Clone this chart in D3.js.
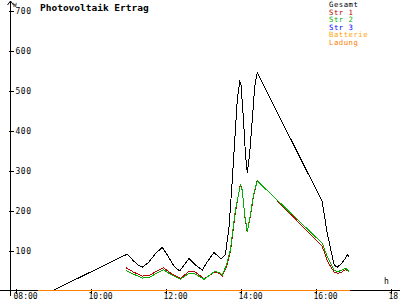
<!DOCTYPE html>
<html lang="de">
<head>
<meta charset="UTF-8">
<title>Photovoltaik Ertrag</title>
<script src="https://d3js.org/d3.v7.min.js"></script>
<style>
  body { margin: 0; background: #fff; }
  svg { display: block; }
  text { font-family: "DejaVu Sans Mono", monospace; }
</style>
</head>
<body>
<svg id="chart" width="400" height="300"></svg>
<script>
// times in minutes after midnight, values in W
const gesamtTime = [539, 658, 668, 676, 682, 692, 703, 714, 724, 733, 742, 749, 757, 767, 778, 787, 797, 803, 808, 815, 821, 826, 831, 834, 838, 840, 844, 847, 850, 854, 858, 862, 866, 970, 978, 989, 994, 1001, 1007, 1010, 1013];
const gesamt     = [0, 91, 74, 63, 58, 70, 92, 108, 84, 60, 49, 64, 80, 64, 51, 74, 95, 86, 79, 89, 160, 276, 401, 476, 522, 514, 426, 344, 294, 344, 426, 510, 545, 222, 143, 64, 58, 68, 80, 89, 84];

const strTime = [656, 668, 682, 695, 706, 716, 727, 743, 757, 767, 781, 797, 804, 810, 817, 823, 831, 839, 842, 846, 850, 855, 860, 866, 970, 979, 989, 995, 1001, 1007, 1013];
const str1    = [57, 46, 36, 39, 49, 57, 44, 30, 48, 46, 29, 45, 44, 36, 61, 96, 196, 266, 251, 186, 146, 186, 236, 276, 110, 71, 46, 43, 46, 52, 47];
const str2    = [50, 41, 31, 34, 44, 52, 41, 28, 43, 41, 28, 47, 46, 39, 64, 101, 201, 264, 251, 189, 147, 189, 239, 274, 118, 81, 51, 47, 51, 56, 47];
const str3    = [];

const akkuTime = [515, 1014];
const batterie = [0, 0];
const ladung   = [0, 0];

const yTicks = [100, 200, 300, 400, 500, 600, 700];
const xTicks = [480, 600, 720, 840, 960, 1080];

const legendNames  = ["Gesamt", "Str 1", "Str 2", "Str 3", "Batterie", "Ladung"];
const legendColors = ["#000000", "#c00000", "#00b000", "#0000ff", "#ffa500", "#ff8000"];

const svg = d3.select("#chart");

const x = d3.scaleLinear().domain([471.2, 1095.2]).range([10.5, 400.5]);
const y = d3.scaleLinear().domain([0, 700]).range([290.5, 10.5]);

const fmt = m => d3.format("02d")(Math.floor(m / 60)) + ":" + d3.format("02d")(m % 60);

// y axis
const yAxis = svg.append("g")
    .attr("transform", "translate(10.5,0)")
    .call(d3.axisRight(y).tickValues(yTicks).tickSize(3).tickFormat(d3.format("d")));
yAxis.select(".domain").remove();
yAxis.selectAll(".tick line").attr("x1", -2).attr("x2", 3).attr("stroke", "#000").attr("shape-rendering", "crispEdges");
yAxis.selectAll(".tick text")
    .attr("x", 5).attr("dy", "0.35em")
    .attr("font-size", 8).attr("letter-spacing", 0.5)
    .attr("font-family", "DejaVu Sans Mono").attr("fill", "#000");
svg.append("line").attr("x1", 10.5).attr("x2", 10.5).attr("y1", 1).attr("y2", 296)
    .attr("stroke", "#000").attr("shape-rendering", "crispEdges");
svg.append("path").attr("d", "M7.5,5 L10.5,1 L13.5,5").attr("fill", "none").attr("stroke", "#000");
svg.append("text").attr("x", 13).attr("y", 7).attr("font-size", 6).text("W");

// x axis
const xAxis = svg.append("g")
    .attr("transform", "translate(0,290.5)")
    .call(d3.axisBottom(x).tickValues(xTicks).tickSize(3).tickFormat(fmt));
xAxis.select(".domain").remove();
xAxis.selectAll(".tick line").attr("y1", -2).attr("y2", 3).attr("stroke", "#000").attr("shape-rendering", "crispEdges");
xAxis.selectAll(".tick text")
    .attr("x", -3).attr("y", 3).attr("dy", "0.71em").attr("text-anchor", "start")
    .attr("font-size", 8).attr("letter-spacing", 0)
    .attr("font-family", "DejaVu Sans Mono").attr("fill", "#000");
svg.append("line").attr("x1", 0).attr("x2", 400).attr("y1", 290.5).attr("y2", 290.5)
    .attr("stroke", "#000").attr("shape-rendering", "crispEdges");
svg.append("text").attr("x", 384).attr("y", 284).attr("font-size", 8).text("h");

// series
const line = d3.line().x(d => x(d[0])).y(d => y(d[1]));
const series = [
  [akkuTime, batterie, legendColors[4]],
  [strTime.slice(0, str3.length), str3, legendColors[3]],
  [gesamtTime, gesamt, legendColors[0]],
  [strTime, str1, legendColors[1]],
  [strTime, str2, legendColors[2]],
  [akkuTime, ladung, legendColors[5]]
];
series.forEach(([t, v, c]) => {
  if (!v.length) return;
  svg.append("path")
      .datum(d3.zip(t, v))
      .attr("fill", "none")
      .attr("stroke", c)
      .attr("stroke-width", 1)
      .attr("shape-rendering", "crispEdges")
      .attr("d", line);
});

// title
svg.append("text").attr("x", 40).attr("y", 11)
    .attr("font-size", 9.5).attr("font-weight", "bold")
    .text("Photovoltaik Ertrag");

// legend
svg.selectAll(".leg").data(legendNames).enter().append("text")
    .attr("class", "leg")
    .attr("x", 329).attr("y", (d, i) => 7 + i * 7.6)
    .attr("font-size", 7.3).attr("letter-spacing", 0.5)
    .attr("fill", (d, i) => legendColors[i])
    .text(d => d);
</script>
</body>
</html>
